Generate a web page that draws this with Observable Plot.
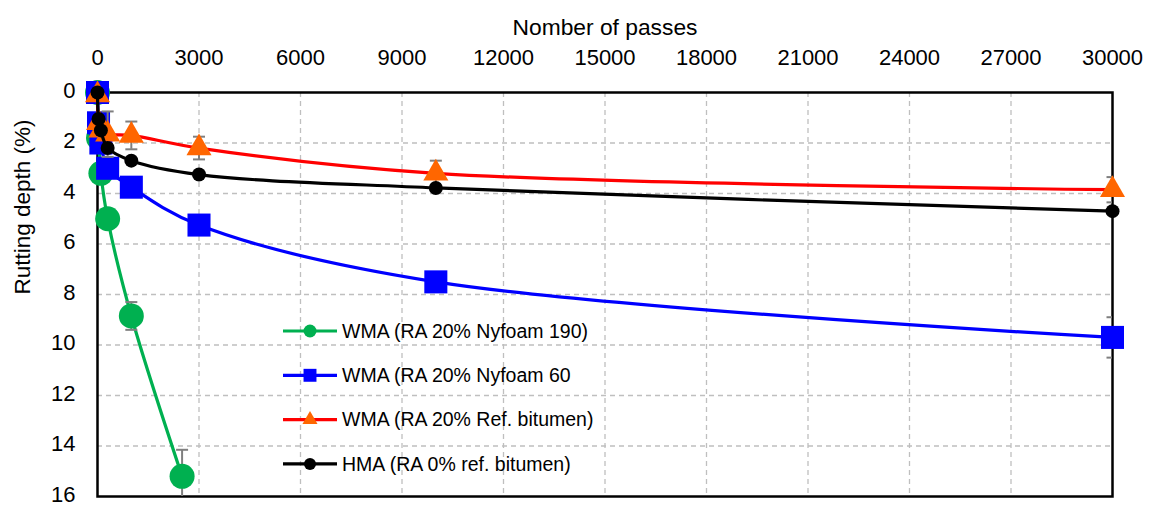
<!DOCTYPE html>
<html>
<head>
<meta charset="utf-8">
<script src="https://cdn.jsdelivr.net/npm/d3@7"></script>
<script src="https://cdn.jsdelivr.net/npm/@observablehq/plot@0.6"></script>
<style>
  body { margin: 0; background: #fff; }
  #wrap { position: relative; width: 1149px; height: 506px; font-family: "Liberation Sans", Arial, sans-serif; }
  #legend { position: absolute; left: 0; top: 0; pointer-events: none; }
</style>
</head>
<body>
<div id="wrap"></div>
<script>
// ---- data ----
const seriesNames = [
  "WMA (RA 20% Nyfoam 190)",
  "WMA (RA 20% Nyfoam 60",
  "WMA (RA 20% Ref. bitumen)",
  "HMA (RA 0% ref. bitumen)"
];
const greenPasses = [0, 30, 100, 300, 1000, 2500];
const greenDepth  = [0, 1.8, 3.2, 5.0, 8.85, 15.2];
const greenErr    = [0, 0, 0, 0, 0.55, 1.05];

const bluePasses = [0, 30, 100, 300, 1000, 3000, 10000, 30000];
const blueDepth  = [0, 1.2, 2.0, 3.0, 3.75, 5.25, 7.5, 9.7];
const blueErr    = [0, 0, 0, 0, 0, 0, 0, 0.8];

const redPasses = [0, 30, 100, 300, 1000, 3000, 10000, 30000];
const redDepth  = [0.1, 1.2, 1.5, 1.65, 1.7, 2.2, 3.2, 3.85];
const redErr    = [0, 0, 0, 0.9, 0.55, 0.45, 0.5, 0.5];

const blackPasses = [0, 30, 100, 300, 1000, 3000, 10000, 30000];
const blackDepth  = [0, 1.05, 1.5, 2.2, 2.7, 3.25, 3.78, 4.7];
const blackErr    = [0, 0, 0, 0, 0, 0, 0, 0];

const xTicks = [0, 3000, 6000, 9000, 12000, 15000, 18000, 21000, 24000, 27000, 30000];
const yTicks = [0, 2, 4, 6, 8, 10, 12, 14, 16];

// ---- build ----
function rows(px, py, pe) { return px.map((x, i) => ({x, y: py[i], e: pe[i]})); }
const series = [
  {name: seriesNames[0], data: rows(greenPasses, greenDepth, greenErr), line: "#00B050", fill: "#00B050", symbol: "circle", r: 12.5, lr: 6.5},
  {name: seriesNames[1], data: rows(bluePasses, blueDepth, blueErr), line: "#0000FF", fill: "#0000FF", symbol: "square", r: 13, lr: 7.3},
  {name: seriesNames[2], data: rows(redPasses, redDepth, redErr), line: "#FF0000", fill: "#FF6600", symbol: "triangle", r: 9.3, lr: 5.6},
  {name: seriesNames[3], data: rows(blackPasses, blackDepth, blackErr), line: "#000000", fill: "#000000", symbol: "circle", r: 7, lr: 6}
];

const capSymbol = {draw(ctx, size) { ctx.moveTo(-6, 0); ctx.lineTo(6, 0); }};
const fmt = d => String(d);

const marks = [
  Plot.gridX(xTicks.slice(1, -1), {stroke: "#bfbfbf", strokeOpacity: 1, strokeDasharray: "5,4", strokeWidth: 1.3}),
  Plot.gridY(yTicks.slice(1, -1), {stroke: "#bfbfbf", strokeOpacity: 1, strokeDasharray: "5,4", strokeWidth: 1.3}),
  Plot.axisX(xTicks, {anchor: "top", tickSize: 0, tickPadding: 28, fontSize: 22, tickFormat: fmt, label: null}),
  Plot.axisY(yTicks, {anchor: "left", tickSize: 0, tickPadding: 22, fontSize: 22, tickFormat: fmt, label: null, dy: -2}),
  Plot.frame({stroke: "#000", strokeWidth: 2.5}),
  Plot.text(["Nomber of passes"], {frameAnchor: "top", dy: -74, fontSize: 22.8}),
  Plot.text(["Rutting depth (%)"], {frameAnchor: "left", dx: -75, rotate: -90, fontSize: 22.5})
];
for (const s of series) {
  const errs = s.data.filter(d => d.e > 0);
  marks.push(Plot.line(s.data, {x: "x", y: "y", stroke: s.line, strokeWidth: 3.2, curve: "catmull-rom"}));
  marks.push(Plot.ruleX(errs, {x: "x", y1: d => d.y - d.e, y2: d => d.y + d.e, stroke: "#7f7f7f", strokeWidth: 2, clip: true}));
  marks.push(Plot.dot(errs, {x: "x", y: d => d.y - d.e, symbol: capSymbol, stroke: "#7f7f7f", strokeWidth: 2, clip: true}));
  marks.push(Plot.dot(errs, {x: "x", y: d => d.y + d.e, symbol: capSymbol, stroke: "#7f7f7f", strokeWidth: 2, clip: true}));
  marks.push(Plot.dot(s.data, {x: "x", y: "y", symbol: s.symbol, r: s.r, fill: s.fill, stroke: "none"}));
}

const chart = Plot.plot({
  width: 1149,
  height: 506,
  marginLeft: 97,
  marginRight: 37,
  marginTop: 92,
  marginBottom: 10,
  style: {fontFamily: "'Liberation Sans', Arial, sans-serif", fontSize: "22px", color: "#000", background: "#fff", overflow: "visible"},
  x: {domain: [0, 30000], axis: null},
  y: {domain: [0, 16], reverse: true, axis: null},
  marks
});
const wrap = document.getElementById("wrap");
wrap.appendChild(chart);

// ---- legend overlay ----
const legend = d3.select(wrap).append("svg")
  .attr("id", "legend").attr("width", 1149).attr("height", 506);
const legY0 = 331, legStep = 44.3;
series.forEach((s, i) => {
  const g = legend.append("g").attr("transform", `translate(283,${legY0 + i * legStep})`);
  g.append("line").attr("x1", 0).attr("x2", 54).attr("y1", 0).attr("y2", 0)
    .attr("stroke", s.line).attr("stroke-width", 3.2);
  const sym = {circle: d3.symbolCircle, square: d3.symbolSquare, triangle: d3.symbolTriangle}[s.symbol];
  g.append("path").attr("transform", "translate(27,0)")
    .attr("d", d3.symbol(sym, Math.PI * s.lr * s.lr)()).attr("fill", s.fill);
  g.append("text").attr("x", 59).attr("y", 0).attr("dy", "0.35em")
    .attr("font-family", "'Liberation Sans', Arial, sans-serif").attr("font-size", 19.5)
    .attr("fill", "#000").text(s.name);
});
</script>
</body>
</html>
